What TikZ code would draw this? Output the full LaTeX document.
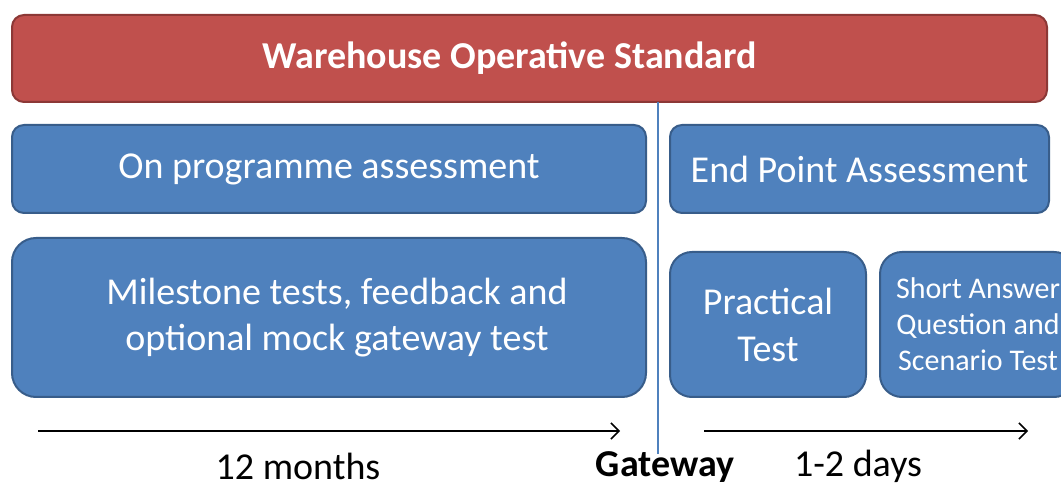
\documentclass[tikz,border=0pt]{standalone}
\usepackage{fontspec}
\setmainfont{Carlito}
\usepackage{tikz}
\usetikzlibrary{positioning}
\usetikzlibrary{arrows.meta}
\definecolor{wosred}{HTML}{C0504D}
\definecolor{wosredline}{HTML}{8C3836}
\definecolor{apblue}{HTML}{4F81BD}
\definecolor{apblueline}{HTML}{385D8A}
\tikzset{
every picture/.style=thick,
redbox/.style={rectangle, rounded corners=6pt, draw=wosredline, fill=wosred, line width=1pt, text=white, font=\fontsize{19}{23}\selectfont\bfseries},
bluebox/.style={rectangle, rounded corners=6pt, draw=apblueline, fill=apblue, line width=1pt, text=white, align=center, font=\fontsize{19}{23}\selectfont},
smallbox/.style={bluebox, rounded corners=11pt, font=\fontsize{15}{18}\selectfont},
timeline/.style={line width=0.75pt, -{Straight Barb[length=4pt,width=8pt]}},
timelabel/.style={font=\fontsize{19}{23}\selectfont}
}

\begin{document}
\begin{tikzpicture}
\useasboundingbox (0pt,0pt) rectangle (530.5pt,-243pt);
\clip (0pt,0pt) rectangle (530.5pt,-243pt);
%Nodes
\node (WOS) [redbox, minimum width=517.5pt, minimum height=43.5pt] at (264.75pt,-29.25pt) {\hspace*{-20pt}Warehouse Operative Standard};
\node (OnProg) [bluebox, minimum width=317pt, minimum height=44pt, below right=10.5pt and 0pt of WOS.south west] {On programme assessment};
\node (EPA) [bluebox, minimum width=189.5pt, minimum height=44pt, right=11pt of OnProg] {End Point Assessment};
\node (Milestone) [bluebox, rounded corners=12pt, minimum width=317pt, minimum height=79.5pt, below right=11.5pt and 0pt of OnProg.south west] {\hspace*{8pt}Milestone tests, feedback and\\\hspace*{8pt}optional mock gateway test};
\node (Practical) [bluebox, rounded corners=11pt, minimum width=98pt, minimum height=72.5pt, above right=0pt and 11pt of Milestone.south east, font=\fontsize{19}{23.5}\selectfont] {Practical\\Test};
\node (SAQ) [smallbox, minimum width=98pt, minimum height=72.5pt, right=6pt of Practical] {Short Answer\\Question and\\Scenario Test};
\node (Months) [timelabel] at (149pt,-233pt) {12 months};
\node (Gateway) [timelabel, font=\fontsize{19}{23}\selectfont\bfseries] at (332.5pt,-233.5pt) {Gateway};
\node (Days) [timelabel] at (429pt,-233pt) {1-2 days};
\coordinate (GateTop) at (329pt,-51pt);
\coordinate (GateBot) at (329pt,-227pt);
\coordinate (ProgStart) at (19pt,-215.5pt);
\coordinate (ProgEnd) at (310pt,-215.5pt);
\coordinate (EPAStart) at (352pt,-215.5pt);
\coordinate (EPAEnd) at (514pt,-215.5pt);

%Lines
\draw[apblue, line width=0.75pt] (GateTop) -- (GateBot);
\draw[timeline] (ProgStart) -- (ProgEnd);
\draw[timeline] (EPAStart) -- (EPAEnd);
\end{tikzpicture}
\end{document}
